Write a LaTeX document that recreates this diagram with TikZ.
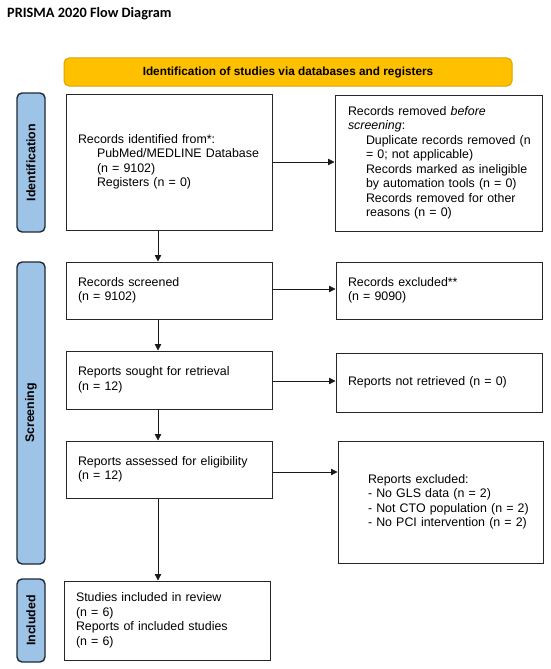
\documentclass[tikz,border=0pt]{standalone}
\usepackage{fontspec}
\setmainfont{Liberation Sans}
\newfontfamily\titlefont{Carlito}
\usetikzlibrary{arrows.meta,calc}
\definecolor{bannerfill}{HTML}{FFC000}
\definecolor{bannerline}{HTML}{D9A300}
\definecolor{sidefill}{HTML}{9DC3E6}
\definecolor{sideline}{HTML}{1F2A36}
\newcommand{\bodyfont}{\fontsize{12.4}{14.5}\selectfont}
\newcommand{\ind}[1]{\mbox{\hspace*{#1}}}
\tikzset{
  flowbox/.style={draw=black!85, line width=1pt, fill=white, align=left, font=\bodyfont,
    inner ysep=0pt, inner xsep=12pt, text width=182pt, minimum height=#1},
  sidelabel/.style={draw=sideline, line width=1.4pt, fill=sidefill, rounded corners=5pt,
    rotate=90, font=\bodyfont\bfseries, minimum height=28pt, minimum width=#1, inner sep=0pt},
  arr/.style={draw=black!90, line width=0.8pt, -{Triangle[length=6.5pt,width=6.5pt]}}
}
\begin{document}
\begin{tikzpicture}[x=1pt,y=-1pt]
\useasboundingbox (0,0) rectangle (550,669);
\node[anchor=base west, font=\titlefont\bfseries\fontsize{14.3}{16}\selectfont, inner sep=0pt] (title) at (7,18) {PRISMA 2020 Flow Diagram};

\node[draw=bannerline, line width=1pt, fill=bannerfill, rounded corners=5pt, minimum width=448pt, minimum height=28pt, inner sep=0pt, font=\fontsize{11.8}{14}\selectfont\bfseries] (banner) at (288,72) {Identification of studies via databases and registers};

\node[sidelabel=139pt] (sid) at (31,162.5) {Identification};
\node[sidelabel=302pt] (sscr) at (31,413) {Screening};
\node[sidelabel=83pt] (sinc) at (31,620.5) {Included};

\node[flowbox=136pt] (b1) at (169,162) {\mbox{Records identified from*:}\\
\ind{19pt}\mbox{PubMed/MEDLINE Database}\\
\ind{19pt}\mbox{(n = 9102)}\\
\ind{19pt}\mbox{Registers (n = 0)}};

\node[flowbox=136pt, inner xsep=13pt, text width=181pt] (b2) at (438.5,163) {\mbox{Records removed \textit{before}}\\
\mbox{\textit{screening}:}\\
\ind{18pt}\mbox{Duplicate records removed (n}\\
\ind{18pt}\mbox{= 0; not applicable)}\\
\ind{18pt}\mbox{Records marked as ineligible}\\
\ind{18pt}\mbox{by automation tools (n = 0)}\\
\ind{18pt}\mbox{Records removed for other}\\
\ind{18pt}\mbox{reasons (n = 0)}};

\node[flowbox=57pt] (scr) at (169,290.5) {Records screened\\(n = 9102)};
\node[flowbox=57pt] (exc) at (439,290.5) {Records excluded**\\(n = 9090)};

\node[flowbox=58pt] (sought) at (169,380) {Reports sought for retrieval\\(n = 12)};
\node[flowbox=59pt] (notret) at (439,382.5) {Reports not retrieved (n = 0)};

\node[flowbox=57pt] (assess) at (169,469.5) {Reports assessed for eligibility\\(n = 12)};
\node[flowbox=122pt, inner xsep=30pt, text width=145pt] (rexc) at (440.5,502) {Reports excluded:\\
\mbox{- No GLS data (n = 2)}\\
\mbox{- Not CTO population (n = 2)}\\
\mbox{- No PCI intervention (n = 2)}};

\node[flowbox=79pt] (incl) at (167,620.5) {Studies included in review\\(n = 6)\\Reports of included studies\\(n = 6)};

\draw[arr] (b1.east) -- (b1.east -| b2.west);
\draw[arr] ([xshift=-11pt]b1.south) -- ([xshift=-11pt]b1.south |- scr.north);
\draw[arr] ([yshift=1.5pt]scr.east) -- ([yshift=1.5pt]scr.east -| exc.west);
\draw[arr] ([xshift=-11pt]scr.south) -- ([xshift=-11pt]scr.south |- sought.north);
\draw[arr] ([yshift=-1pt]sought.east) -- ([yshift=-1pt]sought.east -| notret.west);
\draw[arr] ([xshift=-11pt]sought.south) -- ([xshift=-11pt]sought.south |- assess.north);
\draw[arr] ([yshift=-2.5pt]assess.east) -- ([yshift=-2.5pt]assess.east -| rexc.west);
\draw[arr] ([xshift=-11pt]assess.south) -- ([xshift=-11pt]assess.south |- incl.north);
\end{tikzpicture}
\end{document}
